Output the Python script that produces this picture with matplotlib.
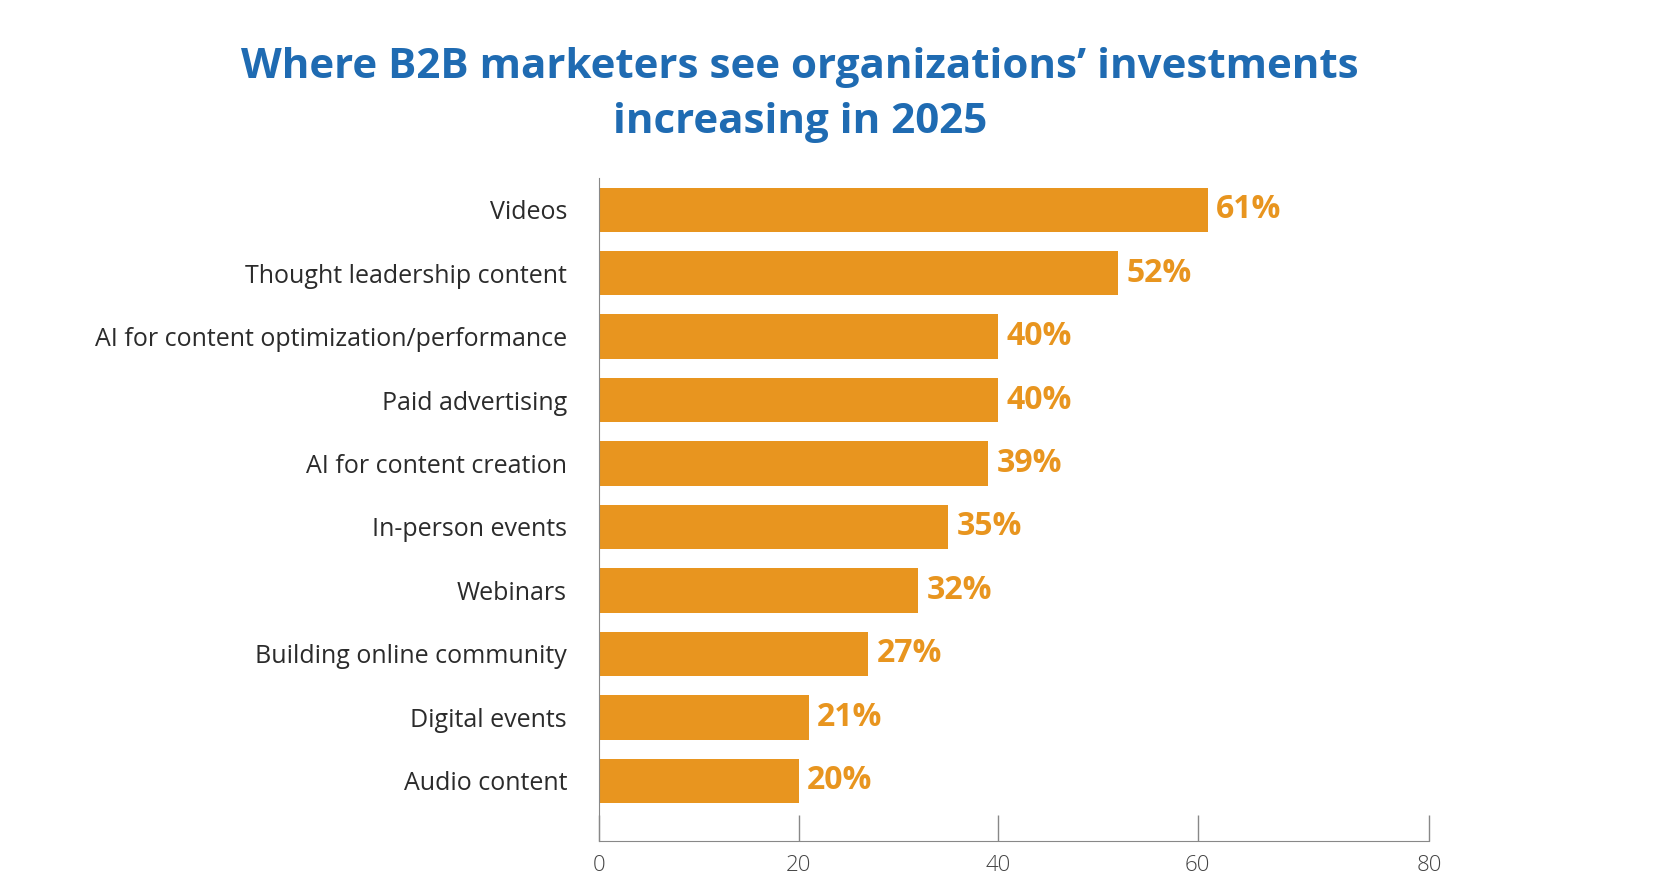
import matplotlib; matplotlib.use('Agg')
import matplotlib.pyplot as plt
import numpy as np

categories = ['Videos', 'Thought leadership content', 'AI for content optimization/performance',
              'Paid advertising', 'AI for content creation', 'In-person events', 'Webinars',
              'Building online community', 'Digital events', 'Audio content']
values = [61, 52, 40, 40, 39, 35, 32, 27, 21, 20]
tick_vals = [0, 20, 40, 60, 83.2]
tick_labels = ['0', '20', '40', '60', '80']

orange = '#E8951F'
blue = '#1F6BB2'

fig = plt.figure(figsize=(16.63, 8.91), dpi=100)
ax = fig.add_axes([0.3602, 0.0561, 0.4991, 0.7441])

y = np.arange(len(categories))[::-1]
ax.barh(y, values, height=0.7, color=orange, zorder=2)

for yi, v in zip(y, values):
    ax.text(v + 0.85, yi, '%d%%' % v, va='center', ha='left', color=orange,
            fontsize=23, fontweight='bold', family='Open Sans')

ax.set_ylim(-0.95, 9.5)
ax.set_xlim(0, 83.2)
ax.set_yticks(y)
ax.set_yticklabels(categories, fontsize=18, color='#2b2b2b', family='Open Sans')
ax.tick_params(axis='y', length=0, pad=23)

ax.set_xticks(tick_vals)
ax.set_xticklabels(tick_labels, fontsize=16, color='#444444', family='Open Sans', fontweight='light')
ax.tick_params(axis='x', direction='in', length=19, width=1, color='#888888', pad=10)

for s in ['top', 'right']:
    ax.spines[s].set_visible(False)
ax.spines['left'].set_color('#888888')
ax.spines['bottom'].set_color('#888888')

fig.text(0.481, 0.924, 'Where B2B marketers see organizations\u2019 investments',
         ha='center', va='center', fontsize=30.3, fontweight='bold', color=blue, family='Open Sans')
fig.text(0.481, 0.862, 'increasing in 2025',
         ha='center', va='center', fontsize=30.3, fontweight='bold', color=blue, family='Open Sans')

fig.savefig('out.png', dpi=100)
